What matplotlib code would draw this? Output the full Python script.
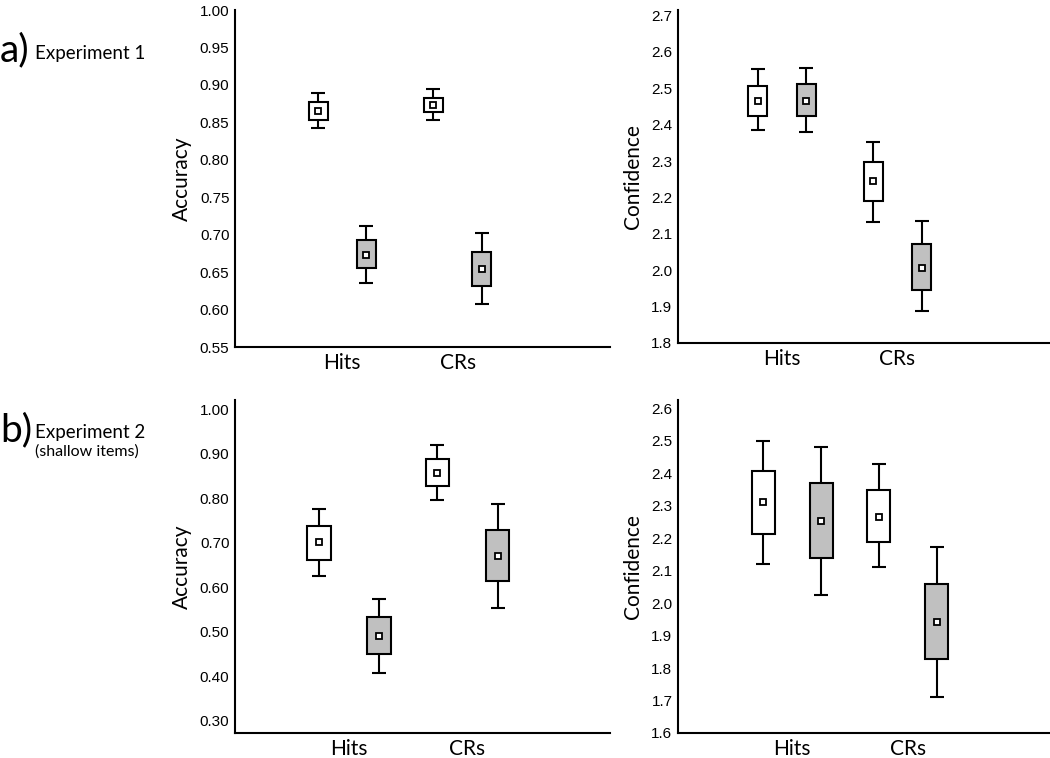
import numpy as np
import matplotlib
matplotlib.use('Agg')
import matplotlib.pyplot as plt

# categories on the x axis
categories = ['Hits', 'CRs']

# each entry: (ci low, box low, mean, box high, ci high), one per category
# Experiment 1 - accuracy
exp1_acc_white = [(0.842, 0.853, 0.865, 0.877, 0.889), (0.853, 0.864, 0.873, 0.883, 0.894)]
exp1_acc_gray = [(0.636, 0.655, 0.673, 0.693, 0.712), (0.608, 0.632, 0.654, 0.677, 0.702)]
# Experiment 1 - confidence
exp1_conf_white = [(2.384, 2.423, 2.465, 2.507, 2.552), (2.133, 2.189, 2.245, 2.298, 2.353)]
exp1_conf_gray = [(2.381, 2.423, 2.465, 2.511, 2.555), (1.887, 1.946, 2.005, 2.072, 2.136)]
# Experiment 2 (shallow items) - accuracy
exp2_acc_white = [(0.624, 0.660, 0.701, 0.738, 0.775), (0.796, 0.827, 0.857, 0.889, 0.919)]
exp2_acc_gray = [(0.406, 0.449, 0.491, 0.532, 0.574), (0.553, 0.613, 0.669, 0.729, 0.787)]
# Experiment 2 (shallow items) - confidence
exp2_conf_white = [(2.120, 2.214, 2.310, 2.407, 2.500), (2.110, 2.187, 2.266, 2.349, 2.429)]
exp2_conf_gray = [(2.025, 2.140, 2.252, 2.368, 2.480), (1.710, 1.827, 1.941, 2.059, 2.173)]

acc1_ticks = [0.55, 0.60, 0.65, 0.70, 0.75, 0.80, 0.85, 0.90, 0.95, 1.00]
conf1_ticks = [1.8, 1.9, 2.0, 2.1, 2.2, 2.3, 2.4, 2.5, 2.6, 2.7]
acc2_ticks = [0.30, 0.40, 0.50, 0.60, 0.70, 0.80, 0.90, 1.00]
conf2_ticks = [1.6, 1.7, 1.8, 1.9, 2.0, 2.1, 2.2, 2.3, 2.4, 2.5, 2.6]

label_font = 'Lato'
num_font = 'Liberation Sans'


def draw_panel(ax, white, gray, offset, width, ylim, yticks, fmt, ylabel, xlim):
    x = np.arange(len(categories))
    for vals, sign, color in [(white, -1, 'white'), (gray, 1, '#c0c0c0')]:
        v = np.array(vals)
        pos = x + sign * offset
        # whiskers
        ax.errorbar(pos, v[:, 2], yerr=[v[:, 2] - v[:, 0], v[:, 4] - v[:, 2]],
                    fmt='none', ecolor='black', elinewidth=1.5, capsize=5,
                    capthick=1.5, zorder=1)
        # box
        ax.bar(pos, v[:, 3] - v[:, 1], bottom=v[:, 1], width=width, color=color,
               edgecolor='black', linewidth=1.5, zorder=2)
        # mean
        ax.plot(pos, v[:, 2], 's', markersize=4.5, markerfacecolor='white',
                markeredgecolor='black', markeredgewidth=1.3, zorder=3)
    ax.set_xlim(xlim)
    ax.set_ylim(ylim)
    ax.set_yticks(yticks)
    ax.set_yticklabels([fmt % t for t in yticks], fontsize=11, family=num_font)
    ax.set_xticks(x)
    ax.set_xticklabels(categories, fontsize=15, family=label_font)
    ax.tick_params(axis='both', length=0)
    ax.tick_params(axis='y', pad=4)
    ax.tick_params(axis='x', pad=4)
    ax.set_ylabel(ylabel, fontsize=15, family=label_font, labelpad=6)
    ax.spines['top'].set_visible(False)
    ax.spines['right'].set_visible(False)
    ax.spines['left'].set_linewidth(1.5)
    ax.spines['bottom'].set_linewidth(1.5)


fig = plt.figure(figsize=(10.5, 7.58), dpi=100)

ax1 = fig.add_axes([0.2238, 0.5422, 0.357, 0.4446])
ax2 = fig.add_axes([0.6457, 0.5475, 0.354, 0.4393])
ax3 = fig.add_axes([0.2238, 0.0330, 0.357, 0.4393])
ax4 = fig.add_axes([0.6457, 0.0330, 0.354, 0.4393])

draw_panel(ax1, exp1_acc_white, exp1_acc_gray, 0.21, 0.165, (0.55, 1.0),
           acc1_ticks, '%.2f', 'Accuracy', (-0.93, 2.32))
draw_panel(ax2, exp1_conf_white, exp1_conf_gray, 0.21, 0.165, (1.8, 2.715),
           conf1_ticks, '%.1f', 'Confidence', (-0.90, 2.32))
draw_panel(ax3, exp2_acc_white, exp2_acc_gray, 0.253, 0.2, (0.272, 1.021),
           acc2_ticks, '%.2f', 'Accuracy', (-0.96, 2.20))
draw_panel(ax4, exp2_conf_white, exp2_conf_gray, 0.25, 0.2, (1.6, 2.625),
           conf2_ticks, '%.1f', 'Confidence', (-0.99, 2.23))

# panel letters and titles
fig.text(0.0, 1 - 50 / 758, 'a)', fontsize=28, family=label_font, va='center')
fig.text(0.033, 1 - 53 / 758, 'Experiment 1', fontsize=13.5, family=label_font, va='center')
fig.text(0.0, 1 - 430 / 758, 'b)', fontsize=28, family=label_font, va='center')
fig.text(0.033, 1 - 432 / 758, 'Experiment 2', fontsize=13.5, family=label_font, va='center')
fig.text(0.033, 1 - 452 / 758, '(shallow items)', fontsize=11.5, family=label_font, va='center')

plt.savefig('out.png', dpi=100)
